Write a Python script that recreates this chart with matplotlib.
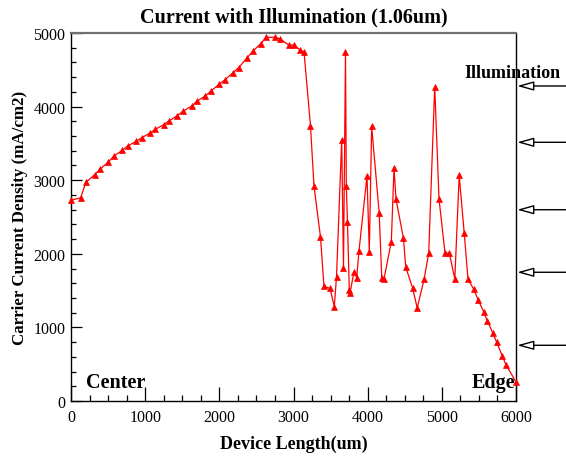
import matplotlib
matplotlib.use("Agg")
import matplotlib.pyplot as plt
from matplotlib.ticker import MultipleLocator

# ---- data ----
device_length = [0, 130, 200, 320, 395, 503, 584, 692, 764, 880, 953, 1061, 1137,
                 1250, 1325, 1433, 1510, 1627, 1695, 1811, 1884, 1996, 2072, 2180,
                 2261, 2369, 2450, 2558, 2633, 2747, 2822, 2935, 3011, 3088, 3142,
                 3229, 3276, 3364, 3411, 3492, 3550, 3580, 3650, 3674, 3701, 3712,
                 3728, 3752, 3762, 3816, 3852, 3883, 3991, 4022, 4054, 4155, 4190,
                 4220, 4319, 4355, 4382, 4483, 4513, 4607, 4668, 4760, 4823, 4904,
                 4962, 5043, 5101, 5175, 5234, 5302, 5353, 5431, 5492, 5566, 5613,
                 5688, 5740, 5814, 5865, 6000]
current_density = [2730, 2760, 2970, 3075, 3152, 3247, 3333, 3406, 3465, 3529, 3577,
                   3637, 3692, 3754, 3808, 3876, 3936, 4008, 4072, 4144, 4208, 4303,
                   4361, 4457, 4529, 4656, 4751, 4855, 4942, 4942, 4918, 4837, 4837,
                   4769, 4742, 3740, 2921, 2228, 1556, 1531, 1281, 1689, 3546, 1807,
                   4738, 2921, 2428, 1508, 1467, 1757, 1675, 2038, 3061, 2031, 3730,
                   2558, 1671, 1658, 2164, 3166, 2745, 2208, 1821, 1531, 1264, 1651,
                   2007, 4270, 2745, 2007, 2011, 1658, 3064, 2280, 1653, 1518, 1368,
                   1209, 1091, 921, 798, 615, 492, 258]
illumination_levels = [4280, 3515, 2599, 1749, 757]
x_ticks = [0, 1000, 2000, 3000, 4000, 5000, 6000]
y_ticks = [0, 1000, 2000, 3000, 4000, 5000]

serif = ["Liberation Serif", "DejaVu Serif"]
plt.rcParams["font.family"] = serif

fig = plt.figure(figsize=(5.66, 4.6), dpi=100)
ax = fig.add_axes([71/566, 58/460, 445/566, 368/460])

ax.plot(device_length, current_density, color="red", lw=0.9, marker="^",
        markersize=4.2, markeredgewidth=0.5, clip_on=False, zorder=3)

ax.set_xlim(0, 6000)
ax.set_ylim(0, 5000)
ax.set_xticks(x_ticks)
ax.set_yticks(y_ticks)
ax.xaxis.set_minor_locator(MultipleLocator(250))
ax.yaxis.set_minor_locator(MultipleLocator(200))
ax.tick_params(which="both", direction="in", top=False, right=False,
               labelsize=11.5, color="black", width=0.9)
ax.tick_params(axis="x", which="major", length=10, pad=6)
ax.tick_params(axis="x", which="minor", length=4.5)
ax.tick_params(axis="y", which="major", length=8, pad=4)
ax.tick_params(axis="y", which="minor", length=3.8)

for s in ["left", "bottom", "right"]:
    ax.spines[s].set_color("black")
    ax.spines[s].set_linewidth(1.0)
ax.spines["top"].set_color("#707070")
ax.spines["top"].set_linewidth(1.6)

ax.set_xlabel("Device Length(um)", fontsize=13, fontweight="bold")
ax.set_ylabel("Carrier Current Density (mA/cm2)", fontsize=12.2, fontweight="bold")
ax.xaxis.set_label_coords(0.5, (402 - 436) / 368)
ax.yaxis.set_label_coords((28 - 71) / 445, 0.5)

fig.text(293.5/566, (460 - 22)/460, "Current with Illumination (1.06um)",
         ha="center", va="baseline", fontsize=14.5, fontweight="bold")

ax.text(208, 190, "Center", fontsize=14.5, fontweight="bold", ha="left", va="baseline")
ax.text(5990, 190, "Edge", fontsize=14.5, fontweight="bold", ha="right", va="baseline")
ax.text(5299, 4402, "Illumination", fontsize=13, fontweight="bold",
        ha="left", va="baseline", clip_on=False)

for lvl in illumination_levels:
    ax.annotate("", xy=(6017, lvl), xytext=(6800, lvl), xycoords="data",
                annotation_clip=False,
                arrowprops=dict(arrowstyle="-|>,head_length=1.0,head_width=0.28",
                                fc="white", ec="black", lw=1.0,
                                shrinkA=0, shrinkB=0))

fig.savefig("out.png", dpi=100)
